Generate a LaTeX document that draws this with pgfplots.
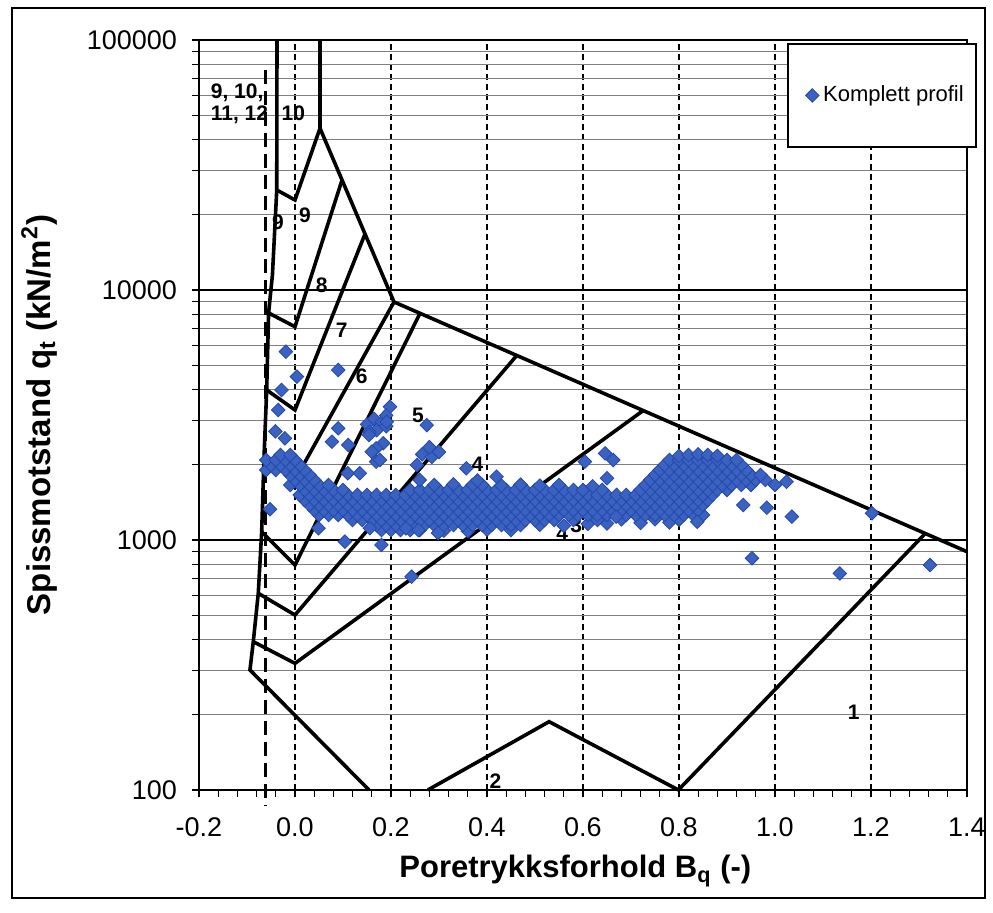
\documentclass[border=0pt]{standalone}
\usepackage{fontspec}
\setmainfont{Liberation Sans}
\usepackage{pgfplots}
\pgfplotsset{compat=1.18}
\definecolor{ptblue}{RGB}{58,98,192}
\definecolor{ptedge}{RGB}{38,72,172}
\begin{document}
\begin{tikzpicture}[x=1pt,y=1pt]
\useasboundingbox (-99.5,-61.5) rectangle (397,395);
\draw[line width=0.9pt] (-93.6,390.8) rectangle (393,-54);
\begin{axis}[
  at={(0,0)}, anchor=south west,
  scale only axis, width=384pt, height=375pt,
  xmin=-0.2, xmax=1.4, ymode=log, ymin=100, ymax=100000,
  clip=false,
  axis line style={line width=1.2pt},
  xtick={-0.2,0,0.2,0.4,0.6,0.8,1.0,1.2,1.4},
  xticklabels={-0.2,0.0,0.2,0.4,0.6,0.8,1.0,1.2,1.4},
  minor x tick num=4,
  ytick={100,1000,10000,100000},
  yticklabels={100,1000,10000,100000},
  minor ytick={200,300,400,500,600,700,800,900,2000,3000,4000,5000,6000,7000,8000,9000,20000,30000,40000,50000,60000,70000,80000,90000},
  tick align=outside, tick pos=left,
  major tick length=3.5pt, minor tick length=3.5pt,
  every tick/.style={black, line width=0.6pt},
  xmajorgrids, ymajorgrids, yminorgrids,
  major x grid style={black, dash pattern=on 3pt off 2pt, line width=0.7pt},
  major y grid style={black, line width=1pt},
  minor y grid style={black!50, line width=0.5pt},
  tick label style={font=\fontsize{13.5}{16}\selectfont},
  xticklabel style={yshift=-7pt},
  yticklabel style={xshift=-4pt},
  xlabel={Poretrykksforhold B\textsubscript{q} (-)},
  ylabel={Spissmotstand q\textsubscript{t} (kN/m\textsuperscript{2})},
  every axis x label/.style={at={(axis description cs:0.49,0)}, anchor=base, yshift=-44pt, font=\bfseries\fontsize{15.5}{18}\selectfont},
  every axis y label/.style={at={(axis description cs:-0.194,0.5)}, anchor=base, rotate=90, font=\bfseries\fontsize{16.5}{19}\selectfont},
  legend style={at={(axis description cs:0.7656,0.996)}, anchor=north west, draw=black, line width=1pt, fill=white,
    font=\fontsize{11}{13}\selectfont, inner xsep=4pt, inner ysep=19pt},
  legend image code/.code={\path (0cm,0cm) (0.36cm,0cm); \draw[mark repeat=2,mark phase=2,#1] plot coordinates {(0cm,0cm)(0.27cm,0cm)(0.36cm,0cm)};},
]
% zone boundaries
\addplot[black, line width=1.8pt, forget plot] coordinates {(-0.0375,100000) (-0.038,25119) (-0.047,11500) (-0.055,8091) (-0.059,3981) (-0.0646,2128) (-0.0694,1079) (-0.0765,612) (-0.0869,392) (-0.0938,302) (0.1542,100)};
\addplot[black, line width=1.8pt, forget plot] coordinates {(0.0521,100000) (0.0521,44340) (0.2063,8954) (1.4,898)};
\addplot[black, line width=1.8pt, forget plot] coordinates {(-0.038,25119) (0,22909) (0.0521,44340)};
\addplot[black, line width=1.8pt, forget plot] coordinates {(-0.055,8091) (0,7129) (0.098,27540)};
\addplot[black, line width=1.8pt, forget plot] coordinates {(-0.059,3981) (0,3311) (0.1459,16760)};
\addplot[black, line width=1.8pt, forget plot] coordinates {(-0.0646,2128) (0,1738) (0.2063,8954)};
\addplot[black, line width=1.8pt, forget plot] coordinates {(-0.0694,1079) (0,794) (0.2605,8067)};
\addplot[black, line width=1.8pt, forget plot] coordinates {(-0.0765,612) (0,501) (0.462,5470)};
\addplot[black, line width=1.8pt, forget plot] coordinates {(-0.0869,392) (0,321) (0.7253,3293)};
\addplot[black, line width=1.8pt, forget plot] coordinates {(0.2768,100) (0.5294,187.6) (0.7987,100)};
\addplot[black, line width=1.8pt, forget plot] coordinates {(0.7987,100) (1.313,1061)};
\addplot[black, line width=1.5pt, dash pattern=on 7pt off 3.5pt, forget plot] coordinates {(-0.0615,75858) (-0.0615,86.3)};
% data
\addplot[only marks, mark=diamond*, mark size=3.4pt, mark options={xscale=1.33, fill=ptblue, draw=ptedge, line width=0.4pt}] coordinates {
(0.18,1096)(0.20,1096)(0.22,1096)(0.24,1096)(0.26,1096)(0.31,1090)(0.36,1085)(0.40,1100)(0.45,1095)
(0.17,1148)(0.19,1148)(0.21,1148)(0.23,1148)(0.25,1148)(0.27,1148)(0.29,1148)(0.31,1148)(0.33,1148)(0.35,1148)(0.37,1148)(0.39,1148)(0.41,1148)(0.43,1148)(0.45,1148)(0.47,1148)(0.51,1150)(0.56,1140)(0.61,1160)(0.65,1165)(0.72,1170)(0.78,1175)
(0.12,1202)(0.14,1202)(0.16,1202)(0.18,1202)(0.20,1202)(0.22,1202)(0.24,1202)(0.26,1202)(0.28,1202)(0.30,1202)(0.32,1202)(0.34,1202)(0.36,1202)(0.38,1202)(0.40,1202)(0.42,1202)(0.44,1202)(0.46,1202)(0.48,1202)(0.50,1202)(0.52,1202)(0.54,1202)(0.58,1202)(0.63,1202)(0.68,1210)(0.75,1210)(0.80,1205)
(0.05,1259)(0.07,1259)(0.09,1259)(0.11,1259)(0.13,1259)(0.15,1259)(0.17,1259)(0.19,1259)(0.21,1259)(0.23,1259)(0.25,1259)(0.27,1259)(0.29,1259)(0.31,1259)(0.33,1259)(0.35,1259)(0.37,1259)(0.39,1259)(0.41,1259)(0.43,1259)(0.45,1259)(0.47,1259)(0.49,1259)(0.51,1259)(0.53,1259)(0.55,1259)(0.57,1259)(0.59,1259)(0.61,1259)(0.63,1259)(0.65,1259)(0.67,1259)(0.69,1259)(0.71,1259)(0.73,1259)(0.75,1259)(0.77,1259)(0.79,1259)(0.81,1259)(0.83,1259)(0.85,1259)
(0.04,1318)(0.06,1318)(0.08,1318)(0.10,1318)(0.12,1318)(0.14,1318)(0.16,1318)(0.18,1318)(0.20,1318)(0.22,1318)(0.24,1318)(0.26,1318)(0.28,1318)(0.30,1318)(0.32,1318)(0.34,1318)(0.36,1318)(0.38,1318)(0.40,1318)(0.42,1318)(0.44,1318)(0.46,1318)(0.48,1318)(0.50,1318)(0.52,1318)(0.54,1318)(0.56,1318)(0.58,1318)(0.60,1318)(0.62,1318)(0.64,1318)(0.66,1318)(0.68,1318)(0.70,1318)(0.72,1318)(0.74,1318)(0.76,1318)(0.78,1318)(0.80,1318)(0.82,1318)(0.84,1318)
(0.03,1380)(0.05,1380)(0.07,1380)(0.09,1380)(0.11,1380)(0.13,1380)(0.15,1380)(0.17,1380)(0.19,1380)(0.21,1380)(0.23,1380)(0.25,1380)(0.27,1380)(0.29,1380)(0.31,1380)(0.33,1380)(0.35,1380)(0.37,1380)(0.39,1380)(0.41,1380)(0.43,1380)(0.45,1380)(0.47,1380)(0.49,1380)(0.51,1380)(0.53,1380)(0.55,1380)(0.57,1380)(0.59,1380)(0.61,1380)(0.63,1380)(0.65,1380)(0.67,1380)(0.69,1380)(0.71,1380)(0.73,1380)(0.75,1380)(0.77,1380)(0.79,1380)(0.81,1380)(0.83,1380)(0.85,1380)
(0.02,1445)(0.04,1445)(0.06,1445)(0.08,1445)(0.10,1445)(0.12,1445)(0.14,1445)(0.16,1445)(0.18,1445)(0.20,1445)(0.22,1445)(0.24,1445)(0.26,1445)(0.28,1445)(0.30,1445)(0.32,1445)(0.34,1445)(0.36,1445)(0.38,1445)(0.40,1445)(0.42,1445)(0.44,1445)(0.46,1445)(0.48,1445)(0.50,1445)(0.52,1445)(0.54,1445)(0.56,1445)(0.58,1445)(0.60,1445)(0.62,1445)(0.64,1445)(0.66,1445)(0.68,1445)(0.70,1445)(0.72,1445)(0.74,1445)(0.76,1445)(0.78,1445)(0.80,1445)(0.82,1445)(0.84,1445)(0.86,1445)
(0.01,1514)(0.03,1514)(0.05,1514)(0.07,1514)(0.09,1514)(0.11,1514)(0.13,1514)(0.15,1514)(0.17,1514)(0.19,1514)(0.21,1514)(0.23,1514)(0.25,1514)(0.27,1514)(0.29,1514)(0.31,1514)(0.33,1514)(0.35,1514)(0.37,1514)(0.39,1514)(0.41,1514)(0.43,1514)(0.45,1514)(0.47,1514)(0.49,1514)(0.51,1514)(0.53,1514)(0.55,1514)(0.57,1514)(0.59,1514)(0.61,1514)(0.63,1514)(0.65,1514)(0.67,1514)(0.69,1514)(0.71,1514)(0.73,1514)(0.75,1514)(0.77,1514)(0.79,1514)(0.81,1514)(0.83,1514)(0.85,1514)(0.87,1514)
(0.02,1585)(0.04,1585)(0.06,1585)(0.08,1585)(0.10,1585)(0.24,1585)(0.26,1585)(0.28,1585)(0.30,1585)(0.32,1585)(0.34,1585)(0.36,1585)(0.38,1585)(0.40,1585)(0.42,1585)(0.44,1585)(0.46,1585)(0.48,1585)(0.50,1585)(0.52,1585)(0.54,1585)(0.56,1585)(0.58,1585)(0.60,1585)(0.64,1585)(0.72,1585)(0.74,1585)(0.76,1585)(0.78,1585)(0.80,1585)(0.82,1585)(0.84,1585)(0.86,1585)(0.88,1585)(0.90,1585)
(-0.01,1660)(0.01,1660)(0.03,1660)(0.05,1660)(0.07,1660)(0.29,1660)(0.33,1670)(0.37,1660)(0.39,1660)(0.43,1650)(0.47,1665)(0.51,1650)(0.55,1660)(0.62,1640)(0.73,1660)(0.75,1660)(0.77,1660)(0.79,1660)(0.81,1660)(0.83,1660)(0.85,1660)(0.87,1660)(0.89,1660)(0.91,1660)(0.93,1660)(0.95,1660)
(0.00,1738)(0.02,1738)(0.04,1738)(0.38,1730)(0.74,1738)(0.76,1738)(0.78,1738)(0.80,1738)(0.82,1738)(0.84,1738)(0.86,1738)(0.88,1738)(0.90,1738)(0.92,1738)(0.94,1738)(0.96,1738)(0.98,1738)
(-0.01,1820)(0.01,1820)(0.03,1820)(0.75,1820)(0.77,1820)(0.79,1820)(0.81,1820)(0.83,1820)(0.85,1820)(0.87,1820)(0.89,1820)(0.91,1820)(0.93,1820)(0.95,1820)(0.97,1820)
(-0.06,1905)(-0.04,1905)(-0.02,1905)(0.00,1905)(0.02,1905)(0.76,1905)(0.78,1905)(0.80,1905)(0.82,1905)(0.84,1905)(0.86,1905)(0.88,1905)(0.90,1905)(0.92,1905)(0.94,1905)
(-0.05,1995)(-0.03,1995)(-0.01,1995)(0.01,1995)(0.77,1995)(0.79,1995)(0.81,1995)(0.83,1995)(0.85,1995)(0.87,1995)(0.89,1995)(0.91,1995)(0.93,1995)
(-0.06,2089)(-0.04,2089)(-0.02,2089)(0.00,2089)(0.78,2089)(0.80,2089)(0.82,2089)(0.84,2089)(0.86,2089)(0.88,2089)(0.90,2089)(0.92,2089)
(-0.03,2188)(-0.01,2188)(0.80,2170)(0.82,2188)(0.84,2200)(0.86,2188)(0.88,2170)
(-0.019,5666)(0.004,4500)(0.09,4786)(-0.028,3981)(-0.035,3311)(-0.041,2720)(-0.021,2551)(0.09,2797)(0.077,2473)(0.111,2399)(0.198,3412)
(0.15,2900)(0.165,3050)(0.18,2950)(0.19,3150)(0.17,2750)(0.155,2700)(0.19,2850)(0.184,2437)(0.169,2326)(0.154,2630)(0.169,2057)(0.16,2254)(0.177,2089)(0.191,2972)
(0.11,1850)(0.135,1850)
(0.2745,2880)(0.265,2200)(0.285,2150)(0.30,2250)(0.28,2350)(0.254,1995)(0.26,1738)
(0.357,1936)(0.42,1791)(0.604,2057)(0.646,2221)(0.663,2089)(0.65,1765)
(0.934,1380)(0.983,1346)(1.035,1240)(1.0,1660)(1.024,1709)
(0.952,845)(1.135,735)(1.202,1279)(1.323,794)
(0.243,713)(-0.052,1327)(0.049,1115)(0.104,985)(0.156,1115)(0.18,955)(0.257,1096)
(0.231,1114)(0.298,1067)(0.669,1240)(0.838,1183)
};
\addlegendentry{Komplett profil}
% zone labels
\node[font=\bfseries\fontsize{10.5}{11}\selectfont, align=left, anchor=west] at (axis cs:-0.19,55700) {9, 10,\\11, 12};
\begin{scope}[every node/.style={font=\bfseries\fontsize{10.5}{12}\selectfont, inner sep=0.5pt}]
\node at (axis cs:-0.0035,50933) {10};
\node at (axis cs:-0.0354,18621) {9};
\node at (axis cs:0.0208,19815) {9};
\node at (axis cs:0.0556,10471) {8};
\node at (axis cs:0.0973,6887) {7};
\node at (axis cs:0.139,4500) {6};
\node at (axis cs:0.2564,3162) {5};
\node at (axis cs:0.3804,2004) {4};
\node at (axis cs:0.5857,1148) {3};
\node at (axis cs:0.5565,1067) {4};
\node at (axis cs:0.4175,108) {2};
\node at (axis cs:1.164,205.5) {1};
\end{scope}
\end{axis}
\end{tikzpicture}
\end{document}
